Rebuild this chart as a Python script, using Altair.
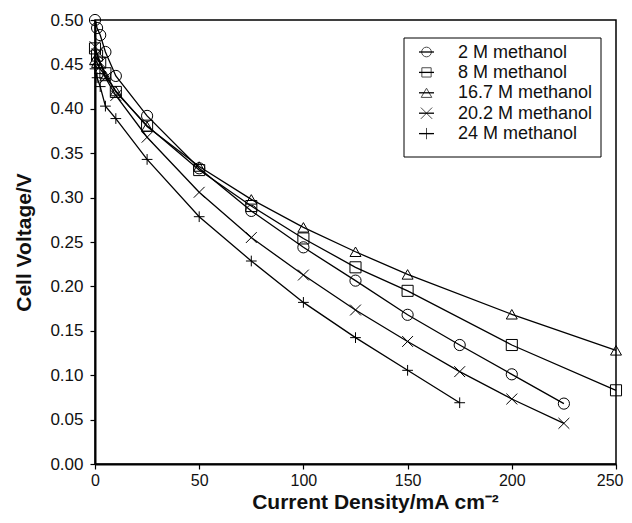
import altair as alt
import pandas as pd

# ---------------- data ----------------
series_names = ["2 M methanol", "8 M methanol", "16.7 M methanol", "20.2 M methanol", "24 M methanol"]

x_2m = [0, 1, 2.5, 5, 10, 25, 50, 75, 100, 125, 150, 175, 200, 225]
y_2m = [0.500, 0.491, 0.483, 0.464, 0.437, 0.392, 0.333, 0.285, 0.244, 0.2065, 0.168, 0.134, 0.101, 0.068]

x_8m = [0, 1, 2.5, 5, 10, 25, 50, 75, 100, 125, 150, 200, 250]
y_8m = [0.468, 0.460, 0.452, 0.440, 0.419, 0.381, 0.331, 0.2905, 0.254, 0.2215, 0.195, 0.134, 0.083]

x_167m = [0, 1, 2.5, 5, 10, 25, 50, 75, 100, 125, 150, 200, 250]
y_167m = [0.455, 0.452, 0.445, 0.437, 0.420, 0.380, 0.335, 0.298, 0.2665, 0.239, 0.2135, 0.1686, 0.128]

x_202m = [0, 1, 2.5, 5, 10, 25, 50, 75, 100, 125, 150, 175, 200, 225]
y_202m = [0.470, 0.462, 0.452, 0.435, 0.415, 0.368, 0.306, 0.255, 0.2128, 0.1734, 0.138, 0.104, 0.0732, 0.0458]

x_24m = [0, 1, 2.5, 5, 10, 25, 50, 75, 100, 125, 150, 175]
y_24m = [0.445, 0.435, 0.425, 0.403, 0.389, 0.343, 0.2785, 0.2286, 0.182, 0.1423, 0.1055, 0.069]

x_ticks = [0, 50, 100, 150, 200, 250]
y_ticks = [0.00, 0.05, 0.10, 0.15, 0.20, 0.25, 0.30, 0.35, 0.40, 0.45, 0.50]

# ---------------- build table ----------------
xs = [x_2m, x_8m, x_167m, x_202m, x_24m]
ys = [y_2m, y_8m, y_167m, y_202m, y_24m]
rows = []
for name, xv, yv in zip(series_names, xs, ys):
    for a, b in zip(xv, yv):
        rows.append({"series": name, "x": a, "y": b})
df = pd.DataFrame(rows)

XMARK = "M-1,-1L1,1M-1,1L1,-1"
PLUS = "M-1,0L1,0M0,-1L0,1"
shapes = ["circle", "square", "triangle-up", XMARK, PLUS]
sizes = [125, 115, 150, 170, 170]

FONT = "Liberation Sans"
W, H = 521, 444
last_x = x_ticks[-1]

xenc = alt.X("x:Q", scale=alt.Scale(domain=[0, 250], nice=False, zero=False),
             axis=alt.Axis(values=x_ticks, title="Current Density/mA cm\u207b\u00b2",
                           titleX=280, titleY=44, titleBaseline="alphabetic", titleAnchor="middle",
                           labelAlign={"condition": {"test": f"datum.value == {last_x}", "value": "right"},
                                       "value": "center"},
                           labelOffset={"condition": {"test": f"datum.value == {last_x}", "value": 7},
                                        "value": 0}))
yenc = alt.Y("y:Q", scale=alt.Scale(domain=[0, 0.5], nice=False),
             axis=alt.Axis(values=y_ticks, format=".2f", title="Cell Voltage/V"))

lines = alt.Chart(df).mark_line(color="black", strokeWidth=1.3).encode(
    x=xenc, y=yenc, detail="series:N", order="x:Q"
)
points = alt.Chart(df).mark_point(filled=False, color="black", strokeWidth=1, opacity=1).encode(
    x="x:Q", y="y:Q",
    shape=alt.Shape("series:N", scale=alt.Scale(domain=series_names, range=shapes), legend=None),
    size=alt.Size("series:N", scale=alt.Scale(domain=series_names, range=sizes), legend=None),
)

# ---------------- manual legend (line through symbol) ----------------
one = pd.DataFrame({"k": [0]})
layers = [lines, points]
box = alt.Chart(one).mark_rect(fill="white", stroke="black", strokeWidth=1).encode(
    x=alt.value(309), x2=alt.value(506), y=alt.value(18), y2=alt.value(137)
)
layers.append(box)
for i, name in enumerate(series_names):
    ly = 32 + i * 20.4
    d = pd.DataFrame({"label": [name]})
    layers.append(alt.Chart(d).mark_rule(color="black", strokeWidth=1.3).encode(
        x=alt.value(324), x2=alt.value(339), y=alt.value(ly)))
    layers.append(alt.Chart(d).mark_point(filled=False, color="black", strokeWidth=1,
                                          shape=shapes[i], size=sizes[i] * 0.75).encode(
        x=alt.value(331.5), y=alt.value(ly)))
    layers.append(alt.Chart(d).mark_text(align="left", baseline="middle", font=FONT,
                                         fontSize=18, color="#111").encode(
        x=alt.value(363), y=alt.value(ly + 0.5), text="label:N"))

chart = alt.layer(*layers).properties(
    width=W, height=H,
    autosize=alt.AutoSizeParams(type="none"),
    padding={"left": 87, "top": 12, "right": 8, "bottom": 50},
    background="white",
).configure_view(
    stroke="black", strokeWidth=1.5
).configure_axis(
    grid=False,
    domainColor="black", domainWidth=2,
    tickColor="black", tickWidth=1.2, tickSize=5,
    labelFont=FONT, labelFontSize=17, labelColor="#111",
    titleFont=FONT, titleFontSize=21, titleFontWeight="bold", titleColor="#111",
).configure_axisY(
    labelPadding=7, titlePadding=15
).configure_axisX(
    labelPadding=3, labelFontSize=16, labelFlush=False
)

chart.save("out.html", embed_options={"renderer": "svg", "actions": False})
